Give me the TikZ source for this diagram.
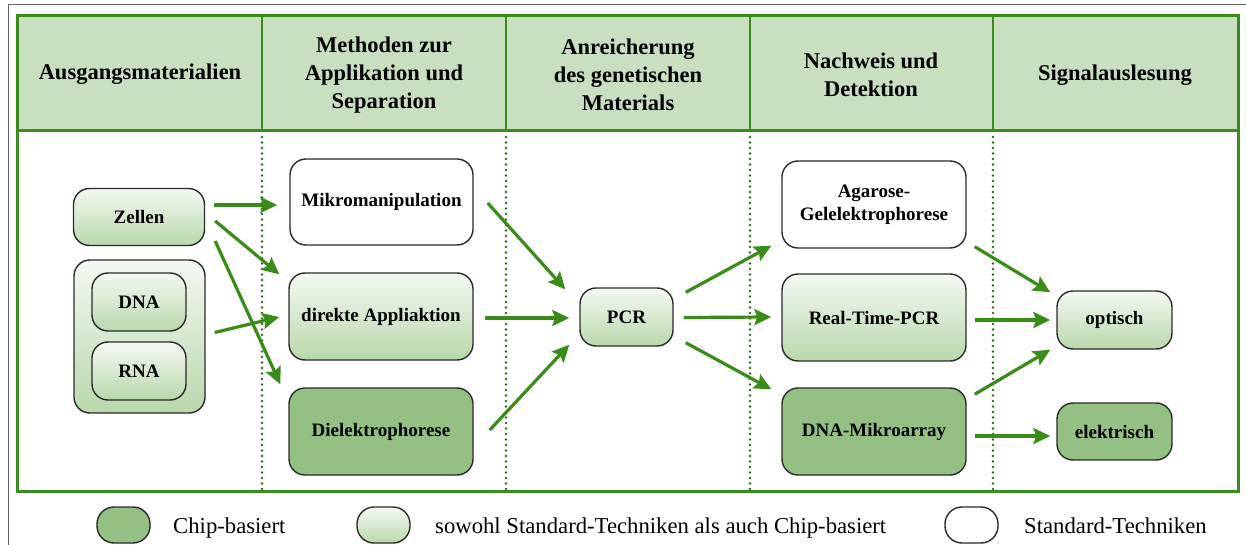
\documentclass[tikz,border=0pt]{standalone}
\usepackage{fontspec}
\setmainfont{Liberation Serif}
\usetikzlibrary{arrows.meta,calc}
\definecolor{frameg}{HTML}{3C8B1E}
\definecolor{headg}{HTML}{C8DFC0}
\definecolor{darkg}{HTML}{94C083}
\definecolor{gradtop}{HTML}{F4F9F2}
\definecolor{gradbot}{HTML}{B9D8AC}
\definecolor{arrg}{HTML}{3A8C18}
\definecolor{dotg}{HTML}{2F6A1C}
\definecolor{boxline}{HTML}{2A2A2A}
\begin{document}
\begin{tikzpicture}[x=1pt,y=-1pt,
  box/.style={draw=boxline, line width=1.4pt, rounded corners=16pt, inner sep=0pt, align=center,
    font=\bfseries\fontsize{19}{23}\selectfont},
  white box/.style={box, fill=white},
  grad box/.style={box, top color=gradtop, bottom color=gradbot},
  dark box/.style={box, fill=darkg},
  arr/.style={draw=arrg, line width=3.2pt, -{Stealth[length=17pt,width=16pt,inset=3pt]}},
  head/.style={font=\bfseries\fontsize{22.5}{28}\selectfont, align=center},
  sep/.style={frameg, line width=2.5pt},
  dots/.style={dotg, line width=2.8pt, line cap=round, dash pattern=on 0pt off 5.5pt},
  legshape/.style={draw=boxline, line width=1.4pt, rounded corners=17pt, minimum width=53pt, minimum height=36pt, inner sep=0pt},
  legtext/.style={anchor=base west, inner sep=0pt, font=\fontsize{22.7}{26}\selectfont},
]
\useasboundingbox (0,0) rectangle (1246,545);
\fill[white] (0,0) rectangle (1246,545);
% outer thin frame
\draw[black!60, line width=1pt] (8,545) -- (8,5) -- (1246,5);
% header and body
\fill[headg] (17,16) rectangle (1238,131);
\draw[frameg, line width=3pt] (17,16) rectangle (1238,491);
\draw[frameg, line width=3pt] (17,131) -- (1238,131);
\foreach \x in {262,506,750,993} {
  \draw[sep] (\x,16) -- (\x,131);
  \draw[dots] (\x,137) -- (\x,489);
}
% headers
\node[head] (h1) at (140,74) {Ausgangsmaterialien};
\node[head] (h2) at (384,75) {Methoden zur\\Applikation und\\Separation};
\node[head] (h3) at (628,75) {Anreicherung\\des genetischen\\Materials};
\node[head] (h4) at (871,75) {Nachweis und\\Detektion};
\node[head] (h5) at (1115,75) {Signalauslesung};
% nodes
\node[grad box, minimum width=131pt, minimum height=57pt] (zel) at (139,217) {Zellen};
\node[grad box, minimum width=131pt, minimum height=153pt] (cont) at (139.5,336.5) {};
\node[grad box, minimum width=94pt, minimum height=58pt] (dnaa) at (139,302) {DNA};
\node[grad box, minimum width=94pt, minimum height=58pt] (rna) at (139,371) {RNA};
\node[white box, minimum width=183pt, minimum height=86pt] (mik) at (381.5,202) {Mikromanipulation};
\node[grad box, minimum width=184pt, minimum height=87pt] (dir) at (381,316.5) {direkte Appliaktion};
\node[dark box, minimum width=184pt, minimum height=87pt] (diel) at (381,431.5) {Dielektrophorese};
\node[grad box, minimum width=93pt, minimum height=58pt] (pcr) at (626.5,317) {PCR};
\node[white box, minimum width=184pt, minimum height=87pt] (aga) at (874,204.5) {Agarose-\\Gelelektrophorese};
\node[grad box, minimum width=184pt, minimum height=87pt] (rt) at (874,317.5) {Real-Time-PCR};
\node[dark box, minimum width=184pt, minimum height=87pt] (mic) at (874,431.5) {DNA-Mikroarray};
\node[grad box, minimum width=115pt, minimum height=58pt] (opt) at (1114.5,320) {optisch};
\node[dark box, minimum width=115pt, minimum height=57pt] (ele) at (1114.5,431.5) {elektrisch};
% arrows
\draw[arr] ($(zel.east)+(9,-12)$) -- ($(mik.west)+(-12,3)$);
\draw[arr] ($(zel.east)+(10,4)$) -- ($(dir.north west)+(-9,2)$);
\draw[arr] ($(zel.east)+(10,24)$) -- ($(diel.north west)+(-8,-3)$);
\draw[arr] ($(cont.east)+(9,-4)$) -- ($(dir.west)+(-9,0.5)$);
\draw[arr] ($(mik.east)+(14,1)$) -- ($(pcr.north west)+(-14,2)$);
\draw[arr] ($(dir.east)+(11,1.5)$) -- ($(pcr.west)+(-10,1)$);
\draw[arr] ($(diel.east)+(16,-1.5)$) -- ($(pcr.south west)+(-10,-2)$);
\draw[arr] ($(pcr.north east)+(12,5)$) -- ($(aga.south west)+(-10,-3)$);
\draw[arr] ($(pcr.east)+(10,0.5)$) -- ($(rt.west)+(-10,-0.5)$);
\draw[arr] ($(pcr.south east)+(12,-4)$) -- ($(mic.north west)+(-10,2)$);
\draw[arr] ($(aga.south east)+(8,-2)$) -- ($(opt.north west)+(-6,2)$);
\draw[arr] ($(rt.east)+(8,2.5)$) -- ($(opt.west)+(-6,0)$);
\draw[arr] ($(mic.north east)+(8,7)$) -- ($(opt.south west)+(-6,0)$);
\draw[arr] ($(mic.east)+(8,4.5)$) -- ($(ele.west)+(-6,4.5)$);
% legend
\node[legshape, fill=darkg] (l1) at (123.5,525) {};
\node[legtext] (t1) at (173,533) {Chip-basiert};
\node[legshape, top color=gradtop, bottom color=gradbot] (l2) at (383.5,525) {};
\node[legtext] (t2) at (435,533) {sowohl Standard-Techniken als auch Chip-basiert};
\node[legshape, fill=white] (l3) at (971.5,525) {};
\node[legtext] (t3) at (1024,533) {Standard-Techniken};
\end{tikzpicture}
\end{document}
